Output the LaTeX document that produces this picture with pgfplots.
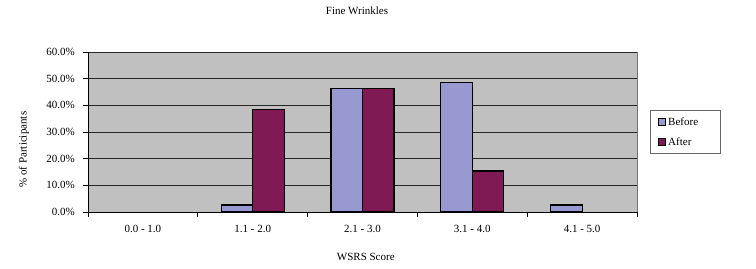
\documentclass[border=0pt]{standalone}
\usepackage{fontspec}
\setmainfont{Liberation Serif}
\usepackage{pgfplots}
\pgfplotsset{compat=1.18}
\definecolor{beforec}{RGB}{153,153,210}
\definecolor{afterc}{RGB}{128,26,84}
\definecolor{plotbg}{RGB}{192,192,192}
\begin{document}
\begin{tikzpicture}[font=\fontsize{11bp}{13bp}\selectfont]
\useasboundingbox (0,0) rectangle (756bp,269bp);
\begin{axis}[
  at={(88bp,57bp)}, anchor=south west,
  scale only axis, width=549bp, height=160bp,
  axis background/.style={fill=plotbg},
  ybar=0pt, bar width=31.5bp,
  xmin=-0.5, xmax=4.5, ymin=0, ymax=60,
  xtick={0,1,2,3,4},
  xticklabels={0.0 - 1.0,1.1 - 2.0,2.1 - 3.0,3.1 - 4.0,4.1 - 5.0},
  minor xtick={-0.5,0.5,1.5,2.5,3.5,4.5},
  major x tick style={draw=none},
  ytick={0,10,20,30,40,50,60},
  yticklabels={0.0\%,10.0\%,20.0\%,30.0\%,40.0\%,50.0\%,60.0\%},
  tick align=outside,
  major tick length=5bp, minor tick length=5bp,
  tick style={black, line width=0.8bp},
  ymajorgrids, grid style={black!85, line width=0.8bp},
  axis x line*=bottom, axis y line*=left,
  axis line style={black, line width=0.8bp, -},
  yticklabel style={inner sep=0pt, xshift=-8bp},
  xticklabel style={inner sep=0pt, yshift=-8bp},
  xlabel={WSRS Score},
  xlabel style={at={(axis description cs:0.506,-0.281)}, anchor=center},
  ylabel={\% of Participants},
  ylabel style={at={(axis description cs:-0.1166,0.39)}, anchor=center},
  title={Fine Wrinkles},
  title style={at={(axis description cs:0.49,1.219)}, anchor=center},
  legend style={at={(axis description cs:1.0237,0.6375)}, anchor=north west,
    draw=black!60, fill=white, line width=0.8bp, inner xsep=8bp, inner ysep=5bp,
    row sep=7bp, cells={anchor=west}},
  legend image code/.code={\draw[#1, line width=0.8bp] (0bp,-3.5bp) rectangle (7bp,3.5bp);},
  extra description/.code={\draw[black!55, line width=0.8bp] (rel axis cs:1,0) -- (rel axis cs:1,1);},
  clip=false,
]
\addplot[fill=beforec, draw=black, line width=1.2bp] coordinates {(1,2.6) (2,46.2) (3,48.7) (4,2.6)};
\addplot[fill=afterc, draw=black, line width=1.2bp] coordinates {(1,38.5) (2,46.2) (3,15.4)};
\legend{\makebox[42bp][l]{Before},\makebox[42bp][l]{After}}
\end{axis}
\end{tikzpicture}
\end{document}
